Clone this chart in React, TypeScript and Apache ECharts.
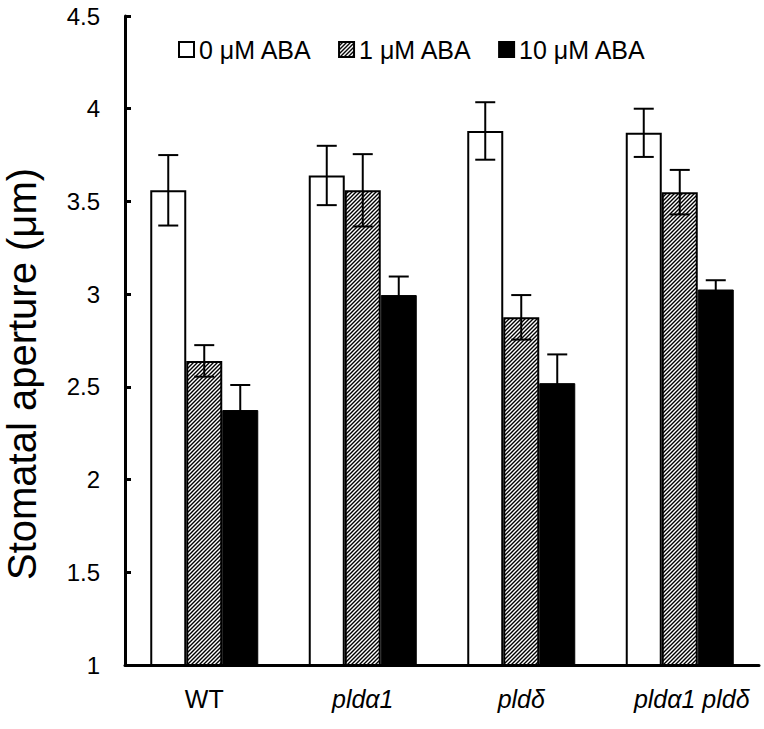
import React, { useEffect, useRef } from "react";
import * as echarts from "echarts";

const categories = ["WT", "pldα1", "pldδ", "pldα1 pldδ"];
const seriesNames = ["0 μM ABA", "1 μM ABA", "10 μM ABA"];
const aba0 = [3.56, 3.64, 3.88, 3.87];
const aba0Err = [0.19, 0.16, 0.155, 0.13];
const aba1 = [2.64, 3.56, 2.875, 3.55];
const aba1Err = [0.085, 0.195, 0.12, 0.12];
const aba10 = [2.375, 2.995, 2.52, 3.025];
const aba10Err = [0.135, 0.1, 0.155, 0.05];
const yTicks = { min: 1, max: 4.5, interval: 0.5 };
const yTitle = "Stomatal aperture (μm)";

const FONT = "'Liberation Sans', Arial, sans-serif";
const BAR_W = 36;

const hatchSvg =
  "data:image/svg+xml;charset=utf-8," +
  encodeURIComponent(
    '<svg xmlns="http://www.w3.org/2000/svg" width="4" height="4">' +
      '<rect width="4" height="4" fill="#ffffff"/>' +
      '<path d="M-1,1 L1,-1 M0,4 L4,0 M3,5 L5,3" stroke="#000" stroke-width="1.4"/>' +
      "</svg>"
  );

export default function App() {
  const ref = useRef<HTMLDivElement>(null);
  useEffect(() => {
    if (!ref.current) return;
    const chart = echarts.init(ref.current, null, { renderer: "svg" });
    const hatch = { image: hatchSvg, repeat: "repeat" } as any;
    const values = [aba0, aba1, aba10];
    const errs = [aba0Err, aba1Err, aba10Err];
    const styles = [
      { color: "#ffffff", borderColor: "#000", borderWidth: 2 },
      { color: hatch, borderColor: "#000", borderWidth: 2 },
      { color: "#000000", borderColor: "#000", borderWidth: 1 },
    ];
    const offsets = [-BAR_W, 0, BAR_W];

    const barSeries = values.map((v, k) => ({
      name: seriesNames[k],
      type: "bar",
      data: v,
      barWidth: BAR_W,
      barGap: "0%",
      itemStyle: styles[k],
      z: 2,
    }));

    const errSeries = values.map((v, k) => ({
      name: seriesNames[k] + " err",
      type: "custom",
      z: 5,
      encode: { x: 0, y: 1 },
      data: v.map((val, i) => [i, val, errs[k][i]]),
      renderItem: (params: any, api: any) => {
        const idx = api.value(0);
        const val = api.value(1);
        const e = api.value(2);
        const hi = api.coord([idx, val + e]);
        const lo = api.coord([idx, val - e]);
        const x = hi[0] + offsets[k];
        const cap = 10;
        const st = { stroke: "#000", lineWidth: 2 };
        return {
          type: "group",
          children: [
            { type: "line", shape: { x1: x, y1: hi[1], x2: x, y2: lo[1] }, style: st },
            { type: "line", shape: { x1: x - cap, y1: hi[1], x2: x + cap, y2: hi[1] }, style: st },
            { type: "line", shape: { x1: x - cap, y1: lo[1], x2: x + cap, y2: lo[1] }, style: st },
          ],
        };
      },
    }));

    chart.setOption({
      animation: false,
      backgroundColor: "#ffffff",
      textStyle: { fontFamily: FONT },
      legend: {
        data: seriesNames,
        icon: "rect",
        left: 173,
        top: 32,
        itemWidth: 15,
        itemHeight: 15,
        itemGap: 26,
        textStyle: { fontFamily: FONT, fontSize: 25, color: "#000" },
      },
      graphic: [
        {
          type: "text",
          x: 22,
          y: 374,
          rotation: Math.PI / 2,
          style: {
            text: yTitle,
            fill: "#000",
            font: "40px 'Liberation Sans', Arial, sans-serif",
            textAlign: "center",
            textVerticalAlign: "middle",
          },
        },
      ],
      grid: { left: 125, right: 5, top: 16, bottom: 64, containLabel: false },
      xAxis: {
        type: "category",
        data: categories.map((c, i) => ({
          value: c,
          textStyle: {
            fontStyle: i === 0 ? "normal" : "italic",
            padding: i === categories.length - 1 ? [0, 0, 0, 24] : 0,
          },
        })),
        axisLine: { onZero: false, lineStyle: { color: "#000", width: 3 } },
        axisTick: { inside: true, length: 6, lineStyle: { color: "#000", width: 3 } },
        axisLabel: { color: "#000", fontSize: 25, fontFamily: FONT, margin: 21 },
      },
      yAxis: {
        type: "value",
        min: yTicks.min,
        max: yTicks.max,
        interval: yTicks.interval,
        axisLine: { show: true, lineStyle: { color: "#000", width: 3 } },
        axisTick: { show: true, inside: true, length: 6, lineStyle: { color: "#000", width: 3 } },
        axisLabel: { color: "#000", fontSize: 24, fontFamily: FONT, margin: 25 },
        splitLine: { show: false },
      },
      series: [...barSeries, ...errSeries],
    } as any);
    return () => chart.dispose();
  }, []);
  return (
    <div
      ref={ref}
      style={{ position: "fixed", left: 0, top: 0, width: 764, height: 729, background: "#fff" }}
    />
  );
}
